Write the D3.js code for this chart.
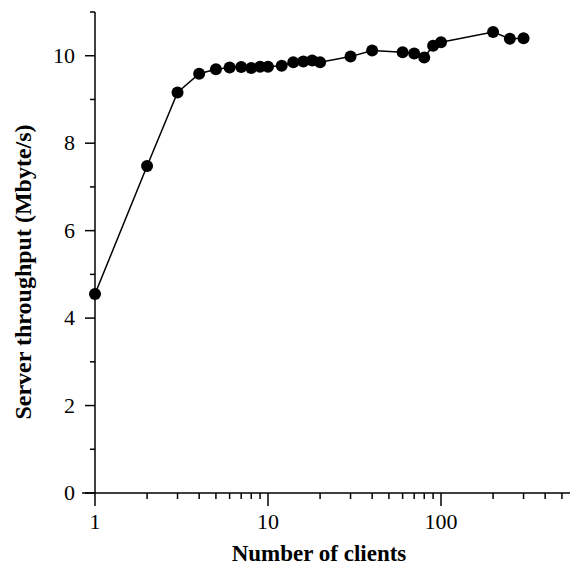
<!DOCTYPE html>
<html>
<head>
<meta charset="utf-8">
<script src="https://cdn.jsdelivr.net/npm/d3@7"></script>
<style>
  body { margin: 0; background: #fff; }
  text { font-family: "Liberation Serif", "Times New Roman", serif; fill: #000; }
</style>
</head>
<body>
<div id="chart"></div>
<script>
// data
var clients = [1, 2, 3, 4, 5, 6, 7, 8, 9, 10, 12, 14, 16, 18, 20, 30, 40, 60, 70, 80, 90, 100, 200, 250, 300];
var throughput = [4.55, 7.48, 9.16, 9.59, 9.69, 9.73, 9.74, 9.72, 9.75, 9.75, 9.77, 9.85, 9.87, 9.89, 9.85,
                  9.98, 10.12, 10.08, 10.05, 9.96, 10.23, 10.31, 10.54, 10.39, 10.40];
var yTicks = [0, 2, 4, 6, 8, 10];
var yMinor = [1, 3, 5, 7, 9, 11];
var xTicks = [1, 10, 100];
var xMinor = [2, 3, 4, 5, 6, 7, 8, 9, 20, 30, 40, 50, 60, 70, 80, 90, 200, 300, 400, 500];

var width = 570, height = 569;
var x0 = 95, x1 = 570, y0 = 493, y1 = 12;

var svg = d3.select("#chart").append("svg")
    .attr("width", width)
    .attr("height", height);

var x = d3.scaleLog()
    .domain([1, Math.pow(10, (x1 - x0) / 173)])
    .range([x0, x1]);

var y = d3.scaleLinear()
    .domain([0, 11])
    .range([y0, y1]);

// x axis line goes a bit past the y axis on the left
svg.append("line")
    .attr("x1", 82).attr("x2", x1)
    .attr("y1", y0).attr("y2", y0)
    .attr("stroke", "#000").attr("stroke-width", 1.5);

svg.append("line")
    .attr("x1", x0).attr("x2", x0)
    .attr("y1", y1).attr("y2", y0)
    .attr("stroke", "#000").attr("stroke-width", 1.5);

// x ticks
svg.selectAll(".xmaj").data(xTicks).enter().append("line")
    .attr("x1", function (d) { return x(d); }).attr("x2", function (d) { return x(d); })
    .attr("y1", y0).attr("y2", y0 + 13)
    .attr("stroke", "#000").attr("stroke-width", 1.5);
svg.selectAll(".xmin").data(xMinor).enter().append("line")
    .attr("x1", function (d) { return x(d); }).attr("x2", function (d) { return x(d); })
    .attr("y1", y0).attr("y2", y0 + 6)
    .attr("stroke", "#000").attr("stroke-width", 1.5);
svg.selectAll(".xlab").data(xTicks).enter().append("text")
    .attr("x", function (d) { return x(d); })
    .attr("y", 529)
    .attr("text-anchor", "middle")
    .style("font-size", "22px")
    .text(function (d) { return d; });

// y ticks
svg.selectAll(".ymaj").data(yTicks).enter().append("line")
    .attr("x1", x0 - 10).attr("x2", x0)
    .attr("y1", function (d) { return y(d); }).attr("y2", function (d) { return y(d); })
    .attr("stroke", "#000").attr("stroke-width", 1.5);
svg.selectAll(".ymin").data(yMinor).enter().append("line")
    .attr("x1", x0 - 5).attr("x2", x0)
    .attr("y1", function (d) { return y(d); }).attr("y2", function (d) { return y(d); })
    .attr("stroke", "#000").attr("stroke-width", 1.5);
svg.selectAll(".ylab").data(yTicks).enter().append("text")
    .attr("x", 75)
    .attr("y", function (d) { return y(d) + 7; })
    .attr("text-anchor", "end")
    .style("font-size", "22px")
    .text(function (d) { return d; });

// line + dots
var pts = clients.map(function (c, i) { return [c, throughput[i]]; });
var line = d3.line()
    .x(function (d) { return x(d[0]); })
    .y(function (d) { return y(d[1]); });

svg.append("path")
    .datum(pts)
    .attr("d", line)
    .attr("fill", "none")
    .attr("stroke", "#000")
    .attr("stroke-width", 1.5);

svg.selectAll(".dot").data(pts).enter().append("circle")
    .attr("cx", function (d) { return x(d[0]); })
    .attr("cy", function (d) { return y(d[1]); })
    .attr("r", 6)
    .attr("fill", "#000");

// titles
svg.append("text")
    .attr("x", 319).attr("y", 561)
    .attr("text-anchor", "middle")
    .style("font-size", "23px").style("font-weight", "bold")
    .text("Number of clients");

svg.append("text")
    .attr("transform", "translate(31,272) rotate(-90)")
    .attr("text-anchor", "middle")
    .style("font-size", "24px").style("font-weight", "bold")
    .text("Server throughput (Mbyte/s)");
</script>
</body>
</html>
